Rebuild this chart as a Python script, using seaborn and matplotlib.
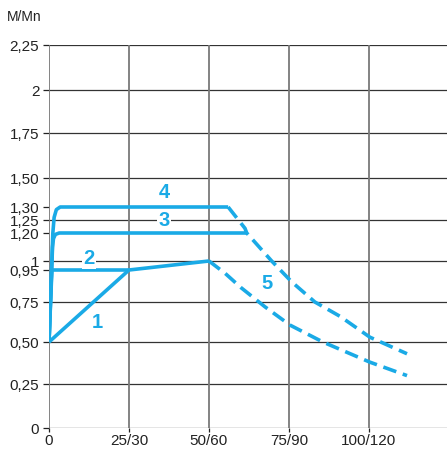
import matplotlib
matplotlib.use("Agg")
import matplotlib.pyplot as plt
import seaborn as sns
import pandas as pd
import numpy as np

sns.set_theme(style="white")
plt.rcParams['font.family'] = ['Liberation Sans', 'DejaVu Sans']

BLUE = '#1aaae6'

# x tick positions and labels
x_ticks = [0, 25, 50, 75, 100]
x_labels = ['0', '25/30', '50/60', '75/90', '100/120']
# y ticks
y_ticks = [0, 0.25, 0.5, 0.75, 0.95, 1, 1.2, 1.25, 1.3, 1.5, 1.75, 2, 2.25]
y_labels = ['0', '0,25', '0,50', '0,75', '0,95', '1', '1,20', '1,25', '1,30', '1,50', '1,75', '2', '2,25']
y_grid = [0.25, 0.5, 0.75, 1, 1.25, 1.5, 1.75, 2, 2.25]

# curve 1 (solid)
c1_x = [0, 25, 50]
c1_y = [0.5, 0.95, 1.0]
# curve 2 (solid)
c2_x = [0, 0.9, 25]
c2_y = [0.5, 0.95, 0.95]
# curve 3 (solid)
c3_x = [0, 1.1, 1.4, 2.0, 3.2, 61.8]
c3_y = [0.5, 1.10, 1.16, 1.19, 1.20, 1.20]
# curve 4 (solid)
c4_x = [0, 1.2, 1.6, 2.3, 3.5, 56.0]
c4_y = [0.5, 1.20, 1.26, 1.29, 1.30, 1.30]
# curve 5 lower (dashed)
c5a_x = [50, 55, 60, 67.5, 75.3, 85.6, 100.3, 111.9]
c5a_y = [1.0, 0.93, 0.84, 0.72, 0.606, 0.50, 0.38, 0.30]
# curve 5 upper (dashed)
c5b_x = [56.0, 61.25, 61.8, 69.6, 75.8, 83.1, 91, 100.3, 111.9]
c5b_y = [1.30, 1.218, 1.20, 1.0, 0.877, 0.75, 0.66, 0.53, 0.43]

labels = ['1', '2', '3', '4', '5']
label_x = [15, 12.5, 36, 36, 68.0]
label_y = [0.625, 1.02, 1.25, 1.40, 0.867]

# the chart's value axis is drawn schematically (not linear): anchor positions
scale_vals = [0, 0.25, 0.5, 0.75, 0.95, 1.0, 1.2, 1.25, 1.3, 1.5, 1.75, 2.0, 2.25]
scale_pos = [0, 44, 86, 126, 158, 167, 195, 208, 221, 250, 295, 338, 383]

def fwd(v):
    return np.interp(v, scale_vals, scale_pos, left=-1e3, right=1e3)

def inv(p):
    return np.interp(p, scale_pos, scale_vals)

fig = plt.figure(figsize=(4.47, 4.49), dpi=100)
ax = fig.add_axes([49/447, 1-428/449, 1-49/447, (428-45)/449])
ax.set_yscale('function', functions=(fwd, inv))

for yv in y_grid:
    ax.axhline(yv, color='#333333', lw=0.9, zorder=1)
ax.axhline(0, color='#333333', lw=0.9, zorder=1)
for xv in x_ticks:
    ax.axvline(xv, color='#7a7a7a', lw=1.3, zorder=1)

solid = [(c1_x, c1_y), (c2_x, c2_y), (c3_x, c3_y), (c4_x, c4_y)]
for xs, ys in solid:
    df = pd.DataFrame({'x': xs, 'y': ys})
    sns.lineplot(data=df, x='x', y='y', ax=ax, color=BLUE, lw=2.6, sort=False,
                 estimator=None, zorder=3, solid_capstyle='butt', solid_joinstyle='round')
for xs, ys in [(c5a_x, c5a_y), (c5b_x, c5b_y)]:
    df = pd.DataFrame({'x': xs, 'y': ys})
    sns.lineplot(data=df, x='x', y='y', ax=ax, color=BLUE, lw=2.6, sort=False,
                 estimator=None, zorder=3)
    ax.lines[-1].set_dashes([3.8, 1.9])

for t, lx, ly in zip(labels, label_x, label_y):
    ax.text(lx, ly, t, color=BLUE, fontsize=14.5, fontweight='bold', ha='center', va='center',
            zorder=4, bbox=dict(facecolor='white', edgecolor='none', pad=1.2) if t in ('2', '3') else None)

ax.set_xlim(0, 124.4)
ax.set_ylim(0, 2.25)
ax.set_xticks(x_ticks)
ax.set_xticklabels(x_labels, fontsize=11)
ax.set_yticks(y_ticks)
ax.set_yticklabels(y_labels, fontsize=11)
ax.minorticks_off()
ax.set_xlabel('')
ax.set_ylabel('')
ax.tick_params(axis='y', colors='#222222', length=4.5, width=0.9, direction='out', left=True, pad=2.5)
ax.tick_params(axis='x', colors='#222222', length=3, width=0.9, direction='out', bottom=True, pad=1.5)
for s in ['top', 'right', 'bottom', 'left']:
    ax.spines[s].set_visible(False)
ax.grid(False)

fig.text(7/447, 1-17/449, 'M/Mn', fontsize=10, color='#222222', ha='left', va='center')

fig.savefig('out.png', dpi=100)
